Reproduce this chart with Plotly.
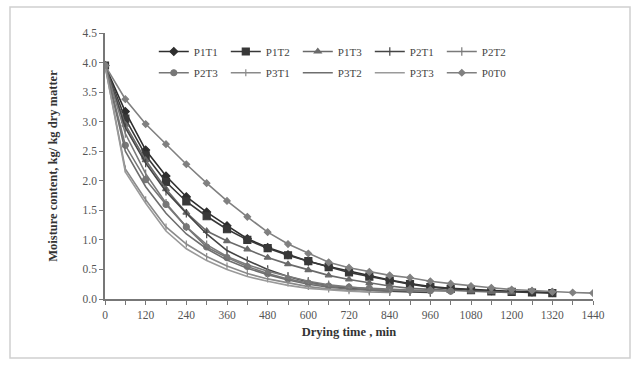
import plotly.graph_objects as go

time_min = [0, 60, 120, 180, 240, 300, 360, 420, 480, 540, 600, 660, 720, 780, 840, 900,
            960, 1020, 1080, 1140, 1200, 1260, 1320, 1380, 1440]

series_names = ["P1T1", "P1T2", "P1T3", "P2T1", "P2T2", "P2T3", "P3T1", "P3T2", "P3T3", "P0T0"]

P1T1 = [3.95, 3.17, 2.52, 2.08, 1.73, 1.47, 1.24, 1.02, 0.87, 0.75, 0.64, 0.55, 0.47, 0.39, 0.32,
        0.26, 0.21, 0.18, 0.16, 0.14, 0.13, 0.12, 0.11]
P1T2 = [3.95, 3.05, 2.43, 1.98, 1.65, 1.40, 1.18, 1.00, 0.86, 0.74, 0.64, 0.54, 0.45, 0.38, 0.31,
        0.25, 0.20, 0.17, 0.15, 0.13, 0.12, 0.11, 0.10]
P1T3 = [3.95, 2.95, 2.35, 1.86, 1.46, 1.15, 0.98, 0.84, 0.70, 0.59, 0.49, 0.40, 0.33, 0.27, 0.22,
        0.18, 0.16, 0.14, 0.13, 0.12, 0.11]
P2T1 = [3.95, 2.90, 2.30, 1.82, 1.45, 1.10, 0.82, 0.65, 0.50, 0.38, 0.29, 0.22, 0.18, 0.15, 0.13,
        0.12, 0.11]
P2T2 = [3.95, 2.80, 2.12, 1.62, 1.22, 0.92, 0.72, 0.58, 0.47, 0.38, 0.30, 0.24, 0.20, 0.17, 0.15,
        0.14, 0.13]
P2T3 = [3.95, 2.60, 2.02, 1.60, 1.22, 0.88, 0.70, 0.55, 0.43, 0.34, 0.27, 0.22, 0.20, 0.18, 0.16,
        0.15, 0.14, 0.13]
P3T1 = [3.95, 2.20, 1.68, 1.22, 0.93, 0.72, 0.56, 0.43, 0.34, 0.27, 0.21, 0.17, 0.14, 0.12, 0.11]
P3T2 = [3.95, 2.50, 1.90, 1.45, 1.10, 0.85, 0.66, 0.52, 0.41, 0.32, 0.25, 0.20, 0.17, 0.15, 0.13]
P3T3 = [3.95, 2.15, 1.62, 1.15, 0.85, 0.65, 0.50, 0.38, 0.30, 0.23, 0.18, 0.15, 0.13, 0.12]
P0T0 = [3.95, 3.38, 2.96, 2.62, 2.28, 1.96, 1.66, 1.39, 1.13, 0.93, 0.77, 0.62, 0.53, 0.46, 0.40,
        0.36, 0.30, 0.26, 0.22, 0.19, 0.16, 0.14, 0.12, 0.11, 0.10]

x_tick_vals = [0, 120, 240, 360, 480, 600, 720, 840, 960, 1080, 1200, 1320, 1440]
y_tick_vals = [0.0, 0.5, 1.0, 1.5, 2.0, 2.5, 3.0, 3.5, 4.0, 4.5]

values = [P1T1, P1T2, P1T3, P2T1, P2T2, P2T3, P3T1, P3T2, P3T3, P0T0]
colors = ["#2e2e2e", "#383838", "#6a6a6a", "#454545", "#7a7a7a",
          "#777777", "#8a8a8a", "#6e6e6e", "#9a9a9a", "#808080"]
symbols = ["diamond", "square", "triangle-up", "line-ns-open", "line-ns-open",
           "circle", "line-ns-open", None, None, "diamond"]
sizes = [6, 7, 6, 6, 6, 6, 5, 0, 0, 5]

fig = go.Figure()
for i, (name, vals, c, s, sz) in enumerate(zip(series_names, values, colors, symbols, sizes)):
    mode = "lines+markers" if s else "lines"
    marker = dict(symbol=s, size=sz, color=c, line=dict(color=c, width=1.2)) if s else None
    fig.add_trace(go.Scatter(
        x=time_min[:len(vals)], y=vals, name=name, mode=mode,
        line=dict(color=c, width=1.6), marker=marker,
        legend="legend" if i < 5 else "legend2",
    ))

font_family = "Liberation Serif, Times New Roman, serif"
legend_common = dict(
    orientation="h", xanchor="left", yanchor="top",
    bgcolor="rgba(0,0,0,0)", font=dict(size=11, color="#444"),
    entrywidth=27, entrywidthmode="pixels", itemwidth=30, tracegroupgap=0,
)
fig.update_layout(
    width=640, height=372,
    margin=dict(l=105, r=47, t=33, b=73),
    paper_bgcolor="white", plot_bgcolor="white",
    font=dict(family=font_family, size=11, color="#444"),
    showlegend=True,
    legend=dict(x=0.1, y=0.985, **legend_common),
    legend2=dict(x=0.1, y=0.905, **legend_common),
    xaxis=dict(
        range=[0, 1440], tickvals=x_tick_vals, ticks="outside", ticklen=4,
        tickcolor="#777", showline=True, linecolor="#777", linewidth=1.5,
        showgrid=False, zeroline=False,
        minor=dict(dtick=60, tick0=0, ticks="outside", ticklen=4, tickcolor="#777", showgrid=False),
        title=dict(text="<b>Drying time , min</b>", font=dict(size=12.5, color="#333"), standoff=8),
        tickfont=dict(size=11.5, color="#555"),
    ),
    yaxis=dict(
        range=[0, 4.5], tickvals=y_tick_vals, tickformat=".1f", ticks="outside", ticklen=4,
        tickcolor="#777", showline=True, linecolor="#777", linewidth=1.5,
        showgrid=False, zeroline=False,
        title=dict(text="<b>Moisture content, kg/ kg dry matter</b>", font=dict(size=12.5, color="#333"), standoff=22),
        tickfont=dict(size=11.5, color="#555"),
    ),
    shapes=[dict(type="rect", xref="paper", yref="paper",
                 x0=(10 - 105) / 488, x1=(630 - 105) / 488,
                 y0=(299 - 358) / 266, y1=(299 - 7) / 266,
                 line=dict(color="#d0d0d0", width=1.5), fillcolor="rgba(0,0,0,0)", layer="below")],
)

fig.write_html("out.html")
